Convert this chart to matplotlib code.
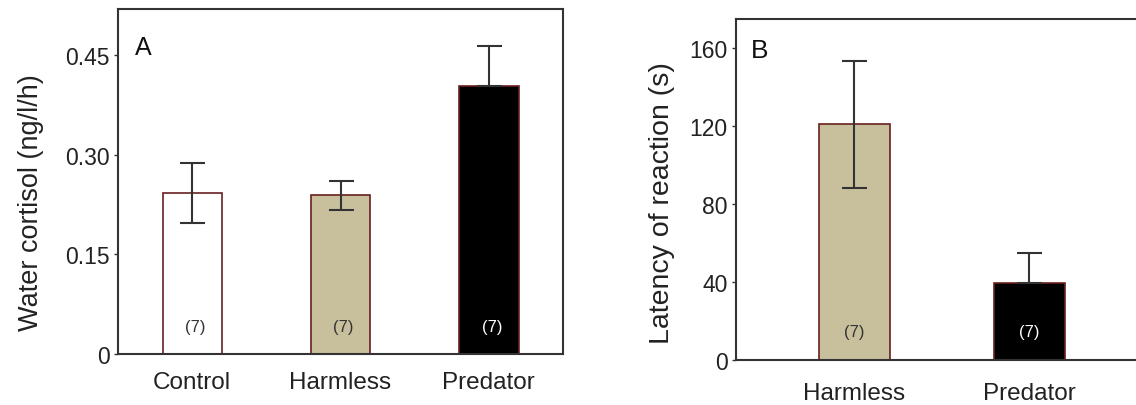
import matplotlib
matplotlib.use("Agg")
import matplotlib.pyplot as plt

plt.rcParams['font.family'] = ['Liberation Sans', 'DejaVu Sans']

# Panel A data
cats_a = ["Control", "Harmless", "Predator"]
cortisol = [0.243, 0.239, 0.404]
cortisol_err = [0.045, 0.022, 0.060]
n_a = ["(7)", "(7)", "(7)"]
ticks_a = [0, 0.15, 0.30, 0.45]
ticklabels_a = ["0", "0.15", "0.30", "0.45"]

# Panel B data
cats_b = ["Harmless", "Predator"]
latency = [121, 39.5]
latency_err = [32.5, 15.5]
n_b = ["(7)", "(7)"]
ticks_b = [0, 40, 80, 120, 160]

fill_colors = {"Control": "white", "Harmless": "#c8c09c", "Predator": "black"}
text_colors = {"Control": "#333333", "Harmless": "#333333", "Predator": "white"}
edge = "#6a1f1f"
spine_c = "#333333"

fig = plt.figure(figsize=(11.36, 4.06), dpi=100)

def style(ax):
    for s in ax.spines.values():
        s.set_color(spine_c)
        s.set_linewidth(1.5)
    ax.tick_params(axis='y', direction='out', length=3, width=1, color=spine_c,
                   labelsize=16.5, pad=3, labelcolor='#222222')
    ax.tick_params(axis='x', direction='in', length=3, width=1, color=spine_c,
                   labelsize=17.5, pad=12, labelcolor='#222222')

# Panel A
axA = fig.add_axes([118/1136, 51/406, 445/1136, 345/406])
xa = list(range(1, len(cats_a) + 1))
axA.bar(xa, cortisol, width=0.40, color=[fill_colors[c] for c in cats_a],
        edgecolor=edge, linewidth=1.2, zorder=2)
lower = [e if c != "Predator" else 0 for c, e in zip(cats_a, cortisol_err)]
axA.errorbar(xa, cortisol, yerr=[lower, cortisol_err], fmt='none',
             ecolor='#333333', elinewidth=1.5, capsize=9, capthick=1.5, zorder=3)
for x, c, t in zip(xa, cats_a, n_a):
    axA.text(x + 0.02, 0.041, t, ha='center', va='center', fontsize=12,
             color=text_colors[c], zorder=4)
axA.set_xlim(0.5, 3.5)
axA.set_ylim(0, 0.52)
axA.set_xticks(xa)
axA.set_xticklabels(cats_a)
axA.set_yticks(ticks_a)
axA.set_yticklabels(ticklabels_a)
axA.set_ylabel("Water cortisol (ng/l/h)", fontsize=19.5, color='#222222')
axA.yaxis.set_label_coords(-0.166, 0.443)
axA.text(0.038, 0.89, "A", transform=axA.transAxes, fontsize=18,
         ha='left', va='center', color='#111111')
style(axA)

# Panel B
axB = fig.add_axes([736/1136, 45/406, 420/1136, 341/406])
xb = list(range(1, len(cats_b) + 1))
axB.bar(xb, latency, width=0.405, color=[fill_colors[c] for c in cats_b],
        edgecolor=edge, linewidth=1.2, zorder=2)
lower_b = [e if c != "Predator" else 0 for c, e in zip(cats_b, latency_err)]
axB.errorbar(xb, latency, yerr=[lower_b, latency_err], fmt='none',
             ecolor='#333333', elinewidth=1.5, capsize=9, capthick=1.5, zorder=3)
for x, c, t in zip(xb, cats_b, n_b):
    axB.text(x, 14.4, t, ha='center', va='center', fontsize=12,
             color=text_colors[c], zorder=4)
axB.set_xlim(0.323, 0.323 + 420 / 175)
axB.set_ylim(0, 175)
axB.set_xticks(xb)
axB.set_xticklabels(cats_b)
axB.set_yticks(ticks_b)
axB.set_ylabel("Latency of reaction (s)", fontsize=20.5, color='#222222')
axB.yaxis.set_label_coords(-0.145, 0.463)
axB.text(0.035, 0.91, "B", transform=axB.transAxes, fontsize=19,
         ha='left', va='center', color='#111111')
style(axB)
axB.tick_params(axis='x', pad=16)

fig.savefig("out.png", dpi=100)
